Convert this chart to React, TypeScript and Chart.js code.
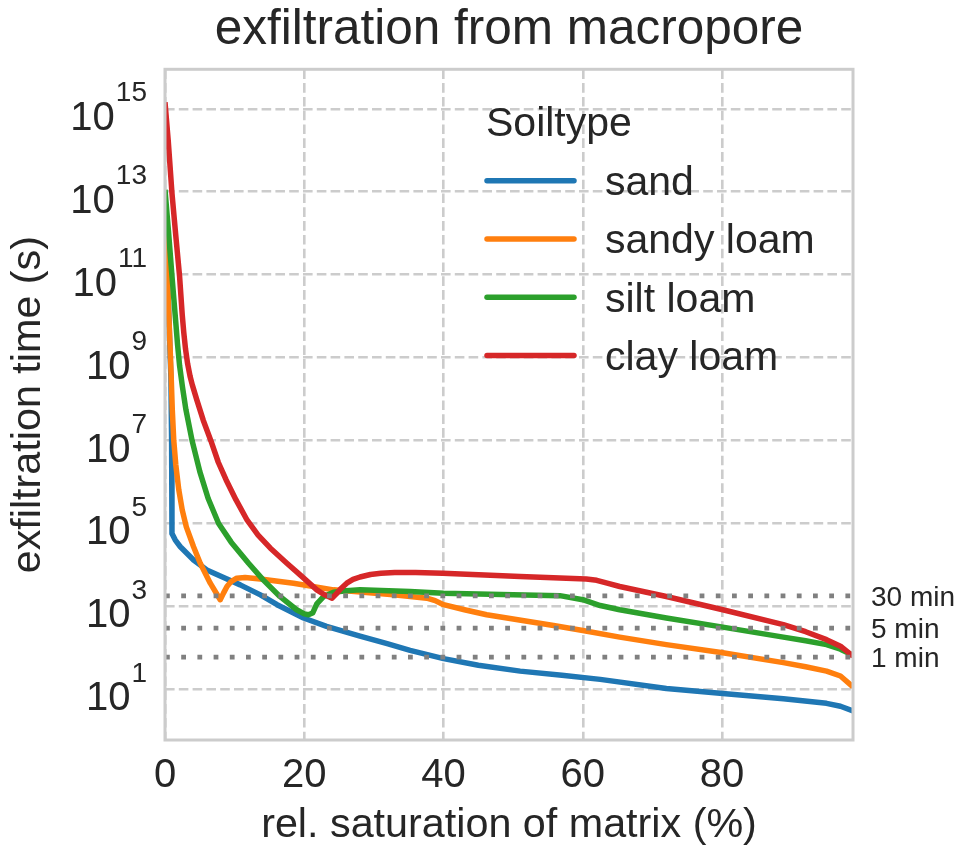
import { useEffect, useRef } from 'react';
import { Chart, registerables } from 'chart.js';

Chart.register(...registerables);

const FONT = "'Liberation Sans', Arial, Helvetica, sans-serif";
const TEXT = '#262626';

// ---------- data ----------
const soilTypes = ['sand', 'sandy loam', 'silt loam', 'clay loam'];
const soilColors = ['#1f77b4', '#ff7f0e', '#2ca02c', '#d62728'];

const sandX = [0, 0.5, 0.85, 0.95, 1.0, 1.48, 2.2, 4.1, 6.0, 8.9, 10.8, 13.7, 16.1, 19.9, 23.2, 28.0, 31.9, 35.2, 40.0, 45.0, 51.0, 57.0, 62.5, 72.0, 80.1, 88.8, 95.0, 97.0, 98.8];
const sandY = [3.2e11, 2.0e10, 3.2e8, 1.0e7, 5.75e4, 3.98e4, 2.75e4, 1.32e4, 7.6e3, 4.57e3, 3.31e3, 1.9e3, 1.1e3, 525, 331, 191, 126, 87, 55, 38, 27.5, 21.9, 17.4, 10.5, 7.9, 5.9, 4.6, 3.9, 3.0];

const sandyLoamX = [0, 0.26, 0.47, 0.69, 0.86, 1.05, 1.26, 1.55, 1.98, 2.48, 3.06, 4.1, 5.06, 6.5, 7.93, 8.4, 8.9, 9.5, 10.3, 11.5, 13.7, 18.45, 24.2, 32.8, 37.6, 38.8, 40.0, 43.0, 46.2, 55.8, 60.0, 65.3, 72.0, 80.1, 88.8, 92.0, 95.0, 97.0, 98.8];
const sandyLoamY = [1.6e12, 3.7e11, 2.3e10, 2.6e9, 4.9e8, 5.4e7, 1.0e7, 2.6e6, 6.5e5, 2.1e5, 8.3e4, 2.75e4, 1.1e4, 3.63e3, 1.45e3, 2.09e3, 3.02e3, 3.98e3, 4.79e3, 5.0e3, 4.57e3, 3.63e3, 2.51e3, 1.91e3, 1.58e3, 1.38e3, 1.1e3, 832, 631, 347, 263, 182, 120, 76, 44, 35, 27.5, 21, 11.5];

const siltLoamX = [0, 0.5, 1.0, 1.5, 1.8, 2.1, 2.5, 3.0, 3.9, 5.0, 6.2, 7.7, 9.5, 12.0, 14.1, 16.5, 18.9, 20.0, 20.6, 21.2, 21.8, 22.8, 24.2, 26.0, 28.0, 35.2, 40.0, 50.0, 56.7, 60.0, 62.5, 65.3, 72.0, 80.1, 88.8, 92.0, 95.0, 97.0, 98.8];
const siltLoamY = [1.12e13, 1.12e12, 9.3e10, 8.9e9, 2.1e9, 6.3e8, 2.0e8, 5.6e7, 9.8e6, 1.78e6, 4.0e5, 1.0e5, 3.55e4, 1.1e4, 4.37e3, 1.74e3, 832, 661, 631, 692, 1.15e3, 1.74e3, 2.19e3, 2.4e3, 2.51e3, 2.29e3, 2.09e3, 1.91e3, 1.82e3, 1.45e3, 1.05e3, 832, 525, 316, 182, 148, 120, 93, 66];

const clayLoamX = [0, 0.47, 1.0, 1.55, 2.09, 2.48, 2.7, 2.95, 3.25, 3.6, 3.92, 4.59, 5.49, 6.6, 7.65, 8.78, 10.2, 11.8, 13.37, 15.1, 17.5, 19.4, 21.8, 22.9, 24.0, 24.6, 25.2, 26.1, 27.0, 28.0, 29.5, 31.0, 33.0, 36.0, 39.9, 51.0, 60.5, 62.0, 63.5, 65.3, 72.0, 80.1, 88.8, 92.0, 95.0, 97.0, 98.8];
const clayLoamY = [1.45e15, 1.66e14, 9.3e12, 8.7e11, 9.3e10, 1.05e10, 4.0e9, 1.6e9, 7.1e8, 3.55e8, 2.2e8, 9.3e7, 3.1e7, 9.8e6, 3.0e6, 1.12e6, 3.7e5, 1.2e5, 5.25e4, 2.57e4, 1.1e4, 5.75e3, 2.51e3, 1.91e3, 1.58e3, 2.0e3, 2.63e3, 3.63e3, 4.47e3, 5.13e3, 5.9e3, 6.31e3, 6.61e3, 6.61e3, 6.31e3, 5.25e3, 4.57e3, 4.27e3, 3.63e3, 3.02e3, 1.74e3, 832, 363, 245, 158, 110, 63];

const thresholdLabels = ['30 min', '5 min', '1 min'];
const thresholdSeconds = [1800, 300, 60];

const xTicks = [0, 20, 40, 60, 80];
const yTickExponents = [1, 3, 5, 7, 9, 11, 13, 15];
const X_MIN = 0;
const X_MAX = 98.8;
const Y_MIN = 0.604;
const Y_MAX = 9.0e15;

const seriesX = [sandX, sandyLoamX, siltLoamX, clayLoamX];
const seriesY = [sandY, sandyLoamY, siltLoamY, clayLoamY];

const zip = (xs: number[], ys: number[]) => xs.map((x, i) => ({ x, y: ys[i] }));

const overlayPlugin = {
  id: 'overlay',
  afterDatasetsDraw(chart: any) {
    const { ctx, chartArea: a } = chart;
    ctx.save();
    ctx.strokeStyle = '#cccccc';
    ctx.lineWidth = 3;
    ctx.setLineDash([]);
    ctx.strokeRect(a.left, a.top, a.right - a.left, a.bottom - a.top);
    ctx.restore();
  },
  afterDraw(chart: any) {
    const { ctx, chartArea: a, scales } = chart;
    const ys = scales.y;
    ctx.save();
    ctx.fillStyle = TEXT;
    ctx.textBaseline = 'alphabetic';
    // y tick labels 10^n
    const rightEdge = a.left - 18;
    yTickExponents.forEach((e) => {
      const py = ys.getPixelForValue(Math.pow(10, e));
      const expStr = String(e);
      ctx.font = `28px ${FONT}`;
      const ew = ctx.measureText(expStr).width;
      const expLeft = rightEdge - ew;
      ctx.textAlign = 'left';
      ctx.fillText(expStr, expLeft, py - 7.4);
      ctx.font = `40px ${FONT}`;
      ctx.textAlign = 'right';
      ctx.fillText('10', expLeft - 1, py + 21);
    });
    // threshold labels
    ctx.font = `28px ${FONT}`;
    ctx.textAlign = 'left';
    thresholdSeconds.forEach((s, i) => {
      const py = ys.getPixelForValue(s);
      ctx.fillText(thresholdLabels[i], a.right + 18, py + 10);
    });
    // legend
    const lx = a.left + 322;
    ctx.font = `41px ${FONT}`;
    ctx.fillText('Soiltype', lx - 1, 135.7);
    soilTypes.forEach((name, i) => {
      const ry = 180.7 + i * 58.3;
      ctx.strokeStyle = soilColors[i];
      ctx.lineWidth = 5.5;
      ctx.lineCap = 'round';
      ctx.beginPath();
      ctx.moveTo(lx, ry);
      ctx.lineTo(lx + 87, ry);
      ctx.stroke();
      ctx.fillText(name, lx + 118, ry + 14.3);
    });
    ctx.restore();
  },
};

export default function App() {
  const canvasRef = useRef<HTMLCanvasElement | null>(null);

  useEffect(() => {
    const canvas = canvasRef.current;
    if (!canvas) return;

    const dataLines = soilTypes.map((name, i) => ({
      label: name,
      data: zip(seriesX[i], seriesY[i]),
      borderColor: soilColors[i],
      backgroundColor: soilColors[i],
      borderWidth: 5.5,
      pointRadius: 0,
      tension: 0,
      borderJoinStyle: 'round' as const,
      borderCapStyle: 'butt' as const,
      fill: false,
      order: 4 - i,
    }));

    const thresholdLines = thresholdSeconds.map((s, i) => ({
      label: thresholdLabels[i],
      data: [
        { x: X_MIN, y: s },
        { x: X_MAX, y: s },
      ],
      borderColor: '#808080',
      borderWidth: 4.6,
      borderDash: [4.8, 11.4],
      borderCapStyle: 'butt' as const,
      pointRadius: 0,
      fill: false,
      order: 0,
    }));

    const chart = new Chart(canvas, {
      type: 'line',
      data: { datasets: [...dataLines, ...thresholdLines] as any },
      options: {
        responsive: false,
        devicePixelRatio: 1,
        animation: false,
        layout: { padding: { left: 0, right: 108, top: 0, bottom: 0 } },
        plugins: {
          legend: { display: false },
          tooltip: { enabled: false },
          title: {
            display: true,
            fullSize: false,
            text: 'exfiltration from macropore',
            color: TEXT,
            font: { family: FONT, size: 49.5, weight: 'normal', lineHeight: 1.2 },
            padding: { top: 0.15, bottom: 9.75 },
          },
        },
        scales: {
          x: {
            type: 'linear',
            min: X_MIN,
            max: X_MAX,
            afterBuildTicks: (scale: any) => {
              scale.ticks = xTicks.map((v) => ({ value: v }));
            },
            afterFit: (scale: any) => {
              scale.height = 109;
            },
            ticks: {
              color: TEXT,
              font: { family: FONT, size: 40 },
              padding: 12,
              maxRotation: 0,
              autoSkip: false,
            },
            grid: { color: '#cccccc', lineWidth: 2.6, drawTicks: false },
            border: { display: false, dash: [9.6, 4.2] },
            title: {
              display: true,
              text: 'rel. saturation of matrix (%)',
              color: TEXT,
              font: { family: FONT, size: 41.3, lineHeight: 1 },
              padding: { top: 0, bottom: 2.5 },
            },
          },
          y: {
            type: 'logarithmic',
            min: Y_MIN,
            max: Y_MAX,
            afterBuildTicks: (scale: any) => {
              scale.ticks = yTickExponents.map((e) => ({ value: Math.pow(10, e) }));
            },
            afterFit: (scale: any) => {
              scale.width = 165;
            },
            ticks: { display: false },
            grid: { color: '#cccccc', lineWidth: 2.6, drawTicks: false },
            border: { display: false, dash: [9.6, 4.2] },
            title: {
              display: true,
              text: 'exfiltration time (s)',
              color: TEXT,
              font: { family: FONT, size: 41.3, lineHeight: 1 },
              padding: { top: 8.1, bottom: 0 },
            },
          },
        },
      },
      plugins: [overlayPlugin],
    });

    return () => chart.destroy();
  }, []);

  return (
    <div style={{ position: 'fixed', left: 0, top: 0, width: 961, height: 849, background: '#ffffff' }}>
      <canvas ref={canvasRef} width={961} height={849} style={{ display: 'block' }} />
    </div>
  );
}
